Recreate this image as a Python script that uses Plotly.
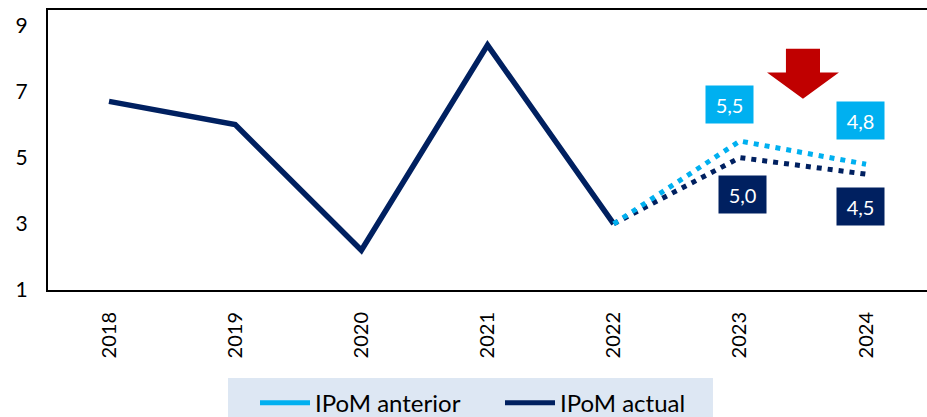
import plotly.graph_objects as go

# Growth series (%), history and projections
years = [2018, 2019, 2020, 2021, 2022, 2023, 2024]
hist_years = [2018, 2019, 2020, 2021, 2022]
hist_values = [6.7, 6.0, 2.2, 8.4, 3.0]
proj_years = [2022, 2023, 2024]
actual_proj = [3.0, 5.0, 4.5]
previous_proj = [3.0, 5.5, 4.8]
y_ticks = [1, 3, 5, 7, 9]

DARK = "#002060"
LIGHT = "#00B0F0"
RED = "#C00000"
FONT = "Lato"


def fmt(v):
    return f"{v:.1f}".replace(".", ",")


fig = go.Figure()

# legend entries (solid samples)
fig.add_trace(go.Scatter(x=[None], y=[None], mode="lines", name="IPoM anterior",
                         line=dict(color=LIGHT, width=5)))
fig.add_trace(go.Scatter(x=[None], y=[None], mode="lines", name="IPoM actual",
                         line=dict(color=DARK, width=5)))

# history
fig.add_trace(go.Scatter(x=hist_years, y=hist_values, mode="lines", showlegend=False,
                         line=dict(color=DARK, width=5.5)))
# projections
fig.add_trace(go.Scatter(x=proj_years, y=actual_proj, mode="lines", showlegend=False,
                         line=dict(color=DARK, width=5, dash="5px,6px")))
fig.add_trace(go.Scatter(x=proj_years, y=previous_proj, mode="lines", showlegend=False,
                         line=dict(color=LIGHT, width=5, dash="5px,6px")))

# value boxes
labels = [
    (proj_years[1], previous_proj[1], LIGHT, -10, 37),
    (proj_years[2], previous_proj[2], LIGHT, -6, 44),
    (proj_years[1], actual_proj[1], DARK, 3, -37),
    (proj_years[2], actual_proj[2], DARK, -6, -32),
]
for x, v, c, dx, dy in labels:
    fig.add_annotation(x=x, y=v, text=fmt(v), showarrow=False, xshift=dx, yshift=dy,
                       bgcolor=c, width=47, height=37, borderpad=0,
                       font=dict(family=FONT, size=20, color="white"))

# downward revision arrow between the two projection years
cx = (proj_years[1] + proj_years[2]) / 2
head_w, shaft_w = 0.285, 0.135
y_top, y_sh, y_tip = 8.29, 7.57, 6.78
path = (f"M{cx - shaft_w},{y_top} L{cx + shaft_w},{y_top} L{cx + shaft_w},{y_sh} "
        f"L{cx + head_w},{y_sh} L{cx},{y_tip} L{cx - head_w},{y_sh} "
        f"L{cx - shaft_w},{y_sh} Z")
fig.add_shape(type="path", path=path, xref="x", yref="y",
              fillcolor=RED, line=dict(width=0))

# legend background panel
fig.add_shape(type="rect", xref="paper", yref="paper",
              x0=0.2048, x1=0.7565, y0=-0.46, y1=-0.3143,
              fillcolor="#DDE7F3", line=dict(width=0), layer="below")

fig.update_layout(
    width=927, height=417,
    margin=dict(l=48, r=0, t=10, b=127, autoexpand=False),
    plot_bgcolor="white", paper_bgcolor="white",
    font=dict(family=FONT, color="black"),
    legend=dict(orientation="h", x=0.2355, xanchor="left", y=-0.404, yanchor="middle",
                bgcolor="rgba(0,0,0,0)", font=dict(family=FONT, size=24, color="black"),
                itemwidth=50, entrywidth=180),
    showlegend=True,
)
fig.update_xaxes(
    range=[2017.5165, 2024.483], tickvals=years, ticktext=[str(y) for y in years],
    tickangle=-90, tickfont=dict(size=20, family=FONT), showgrid=False, zeroline=False,
    showline=True, mirror=True, linecolor="black", linewidth=2,
    ticks="", ticklabelstandoff=12,
)
fig.update_yaxes(
    range=[1, 9.46], tickvals=y_ticks, tickfont=dict(size=21, family=FONT),
    showgrid=False, zeroline=False, showline=True, mirror=False,
    linecolor="black", linewidth=2, ticks="", ticklabelstandoff=14,
)

fig.write_html("out.html")
